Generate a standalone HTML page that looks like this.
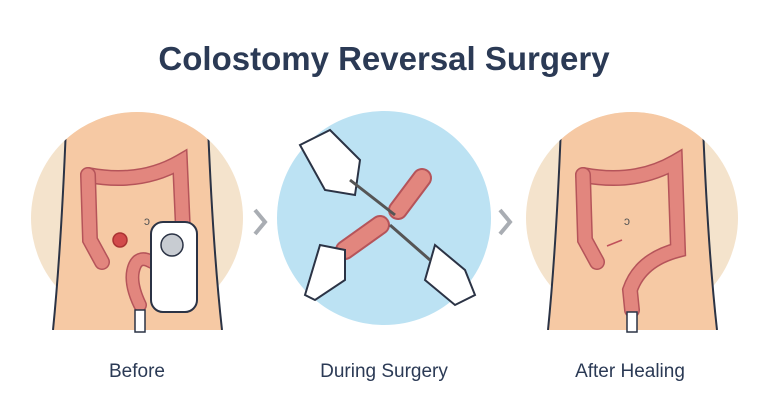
<!DOCTYPE html>
<html><head><style>
body{margin:0;background:#fff;}
svg{display:block}
text{font-family:"Liberation Sans",sans-serif;}
</style></head><body>
<svg width="768" height="419" viewBox="0 0 768 419" xmlns="http://www.w3.org/2000/svg">
<defs>
<clipPath id="cL"><circle cx="137" cy="218" r="106"/><rect x="31" y="218" width="212" height="112"/></clipPath>
<clipPath id="cR"><circle cx="632" cy="218" r="106"/><rect x="526" y="218" width="212" height="112"/></clipPath>
</defs>
<text x="384" y="70" text-anchor="middle" font-size="33" font-weight="bold" fill="#2b3a55">Colostomy Reversal Surgery</text>

<!-- LEFT -->
<circle cx="137" cy="218" r="106" fill="#f4e3cc"/>
<g clip-path="url(#cL)">
<path d="M67,100 Q62,240 53,330 L222,330 Q212,240 207,100 Z" fill="#f6c9a4"/>
<path d="M67,100 Q62,240 53,330 M222,330 Q212,240 207,100" fill="none" stroke="#2b3345" stroke-width="2"/>
</g>
<path d="M88,175 Q140,185 180,162 L183,230" fill="none" stroke="#b5545a" stroke-width="16" stroke-linecap="round"/>
<path d="M88,175 Q140,185 180,162 L183,230" fill="none" stroke="#e2867e" stroke-width="13" stroke-linecap="round"/>
<path d="M88,175 L90,240 L102,262" fill="none" stroke="#b5545a" stroke-width="16" stroke-linecap="round"/>
<path d="M88,175 L90,240 L102,262" fill="none" stroke="#e2867e" stroke-width="13" stroke-linecap="round"/>
<circle cx="120" cy="240" r="7" fill="#d24b4b" stroke="#a33" stroke-width="1.5"/>
<path d="M140,305 Q128,280 135,265 Q140,255 152,262" fill="none" stroke="#b5545a" stroke-width="14" stroke-linecap="round"/>
<path d="M140,305 Q128,280 135,265 Q140,255 152,262" fill="none" stroke="#e2867e" stroke-width="11" stroke-linecap="round"/>
<rect x="135" y="310" width="10" height="22" fill="#fff" stroke="#2b3345" stroke-width="1.5"/>
<rect x="151" y="222" width="46" height="90" rx="12" fill="#fff" stroke="#2b3345" stroke-width="2"/>
<circle cx="172" cy="245" r="11" fill="#c8ccd2" stroke="#2b3345" stroke-width="1.5"/>
<text x="144" y="225" font-size="12" fill="#555">ↄ</text>

<path d="M255,210 L265,222 L255,234" fill="none" stroke="#a9adb3" stroke-width="4"/>
<path d="M500,210 L510,222 L500,234" fill="none" stroke="#a9adb3" stroke-width="4"/>

<!-- MIDDLE -->
<circle cx="384" cy="218" r="107" fill="#bce2f3"/>
<path d="M398,210 L422,178" stroke="#b5545a" stroke-width="20" stroke-linecap="round"/>
<path d="M398,210 L422,178" stroke="#e2867e" stroke-width="16" stroke-linecap="round"/>
<path d="M345,250 L380,225" stroke="#b5545a" stroke-width="20" stroke-linecap="round"/>
<path d="M345,250 L380,225" stroke="#e2867e" stroke-width="16" stroke-linecap="round"/>
<path d="M300,145 L330,130 L360,160 L355,195 L325,190 Z" fill="#fff" stroke="#2b3345" stroke-width="2"/>
<path d="M305,295 L320,245 L345,250 L345,280 L315,300 Z" fill="#fff" stroke="#2b3345" stroke-width="2"/>
<path d="M435,245 L465,270 L475,295 L455,305 L425,280 Z" fill="#fff" stroke="#2b3345" stroke-width="2"/>
<line x1="350" y1="180" x2="395" y2="215" stroke="#555" stroke-width="3"/>
<line x1="390" y1="225" x2="430" y2="260" stroke="#555" stroke-width="3"/>

<!-- RIGHT -->
<circle cx="632" cy="218" r="106" fill="#f4e3cc"/>
<g clip-path="url(#cR)">
<path d="M562,100 Q557,240 548,330 L717,330 Q707,240 702,100 Z" fill="#f6c9a4"/>
<path d="M562,100 Q557,240 548,330 M717,330 Q707,240 702,100" fill="none" stroke="#2b3345" stroke-width="2"/>
</g>
<path d="M583,175 Q635,185 675,162 L678,250 Q640,260 630,290 L632,310" fill="none" stroke="#b5545a" stroke-width="16" stroke-linecap="round"/>
<path d="M583,175 Q635,185 675,162 L678,250 Q640,260 630,290 L632,310" fill="none" stroke="#e2867e" stroke-width="13" stroke-linecap="round"/>
<path d="M583,175 L585,240 L597,262" fill="none" stroke="#b5545a" stroke-width="16" stroke-linecap="round"/>
<path d="M583,175 L585,240 L597,262" fill="none" stroke="#e2867e" stroke-width="13" stroke-linecap="round"/>
<path d="M607,246 L622,240" stroke="#c0505a" stroke-width="1.5"/>
<rect x="627" y="312" width="10" height="20" fill="#fff" stroke="#2b3345" stroke-width="1.5"/>
<text x="624" y="225" font-size="12" fill="#555">ↄ</text>

<text x="137" y="377" text-anchor="middle" font-size="19" fill="#2b3a55">Before</text>
<text x="384" y="377" text-anchor="middle" font-size="19" fill="#2b3a55">During Surgery</text>
<text x="630" y="377" text-anchor="middle" font-size="19" fill="#2b3a55">After Healing</text>
</svg>
</body></html>
